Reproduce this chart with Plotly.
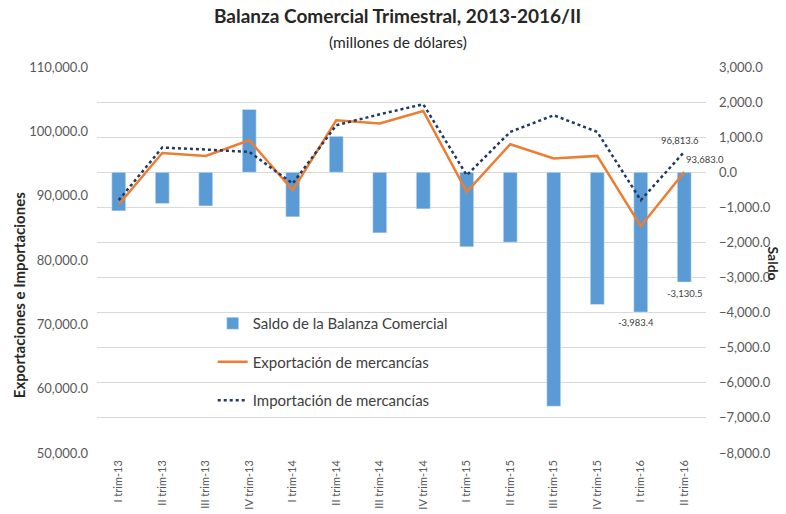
import plotly.graph_objects as go

# Datos (millones de dólares)
trimestres = ["I trim-13", "II trim-13", "III trim-13", "IV trim-13",
              "I trim-14", "II trim-14", "III trim-14", "IV trim-14",
              "I trim-15", "II trim-15", "III trim-15", "IV trim-15",
              "I trim-16", "II trim-16"]
saldo = [-1100, -890, -960, 1790, -1270, 1025, -1727, -1043,
         -2125, -1994, -6667, -3769, -3983.4, -3130.5]
exportaciones = [88630, 96640, 96180, 98620, 90850, 101720, 101210, 103170,
                 90590, 98000, 95770, 96180, 85260, 93683.0]
importaciones = [89300, 97480, 97170, 96800, 91890, 100950, 102650, 104210,
                 93180, 99910, 102500, 99910, 89300, 96813.6]

azul = "#5B9BD5"
naranja = "#ED7D31"
marino = "#1F3864"
gris = "#595959"
fuente = "Lato"

fig = go.Figure()

# barras del saldo (eje derecho)
fig.add_trace(go.Bar(
    x=trimestres, y=saldo, name="Saldo de la Balanza Comercial",
    marker_color=azul, width=0.32, yaxis="y", legendgroup="a"
))
# líneas (eje izquierdo, dibujado encima de las barras)
fig.add_trace(go.Scatter(
    x=trimestres, y=exportaciones, name="Exportación de mercancías",
    mode="lines", line=dict(color=naranja, width=2.5), yaxis="y2", legendgroup="b"
))
fig.add_trace(go.Scatter(
    x=trimestres, y=importaciones, name="Importación de mercancías",
    mode="lines", line=dict(color=marino, width=2.5, dash="dot"), yaxis="y2", legendgroup="c"
))

# etiquetas de datos
ult = trimestres[-1]
etiquetas = [
    dict(x=ult, y=importaciones[-1], yref="y2", text=f"{importaciones[-1]:,.1f}", xshift=-4, yshift=11, xanchor="center"),
    dict(x=ult, y=exportaciones[-1], yref="y2", text=f"{exportaciones[-1]:,.1f}", xshift=0, yshift=12, xanchor="left"),
    dict(x=trimestres[-2], y=saldo[-2], yref="y", text=f"{saldo[-2]:,.1f}", xshift=-5, yshift=-10, xanchor="center"),
    dict(x=ult, y=saldo[-1], yref="y", text=f"{saldo[-1]:,.1f}", xshift=0, yshift=-11, xanchor="center"),
]
for e in etiquetas:
    fig.add_annotation(xref="x", showarrow=False, yanchor="middle",
                       font=dict(family=fuente, size=9.5, color="#404040"), **e)

# títulos
fig.add_annotation(xref="paper", yref="paper", x=0.494, y=1.133, showarrow=False,
                   xanchor="center", yanchor="middle",
                   text="<b>Balanza Comercial Trimestral, 2013-2016/II</b>",
                   font=dict(family=fuente, size=19, color="#262626"))
fig.add_annotation(xref="paper", yref="paper", x=0.494, y=1.066, showarrow=False,
                   xanchor="center", yanchor="middle",
                   text="(millones de dólares)",
                   font=dict(family=fuente, size=15.5, color="#262626"))
fig.add_annotation(xref="paper", yref="paper", x=-0.128, y=0.409, showarrow=False, textangle=-90,
                   xanchor="center", yanchor="middle",
                   text="<b>Exportaciones e Importaciones</b>",
                   font=dict(family=fuente, size=15, color="#262626"))
fig.add_annotation(xref="paper", yref="paper", x=1.111, y=0.492, showarrow=False, textangle=90,
                   xanchor="center", yanchor="middle",
                   text="<b>Saldo</b>",
                   font=dict(family=fuente, size=14, color="#262626"))

fig.update_layout(
    width=786, height=514,
    margin=dict(l=97, r=80, t=67, b=61),
    paper_bgcolor="white", plot_bgcolor="white",
    font=dict(family=fuente, size=13, color=gris),
    showlegend=True,
    legend=dict(x=0.19, y=0.378, xanchor="left", yanchor="top",
                bgcolor="rgba(0,0,0,0)", tracegroupgap=16,
                font=dict(family=fuente, size=15, color="#404040")),
    xaxis=dict(range=[-0.5, 13.5], automargin=False, tickangle=-90, showgrid=False,
               showline=False, ticks="", ticklabelstandoff=4,
               tickfont=dict(size=11, color=gris)),
    yaxis=dict(side="right", range=[-8000, 3000], dtick=1000, tickformat=",.1f",
               automargin=False, showgrid=True, gridcolor="#D9D9D9", gridwidth=1,
               zeroline=False, ticklabelstandoff=12, tickfont=dict(size=13, color=gris)),
    yaxis2=dict(side="left", overlaying="y", range=[50000, 110000], dtick=10000,
                tickformat=",.1f", automargin=False, showgrid=False, zeroline=False,
                ticklabelstandoff=8, tickfont=dict(size=13, color=gris)),
)

# sin margen del body para que la figura quede en (0, 0)
fig.write_html("out.html", config={"displayModeBar": False},
               post_script="document.body.style.margin='0';")
